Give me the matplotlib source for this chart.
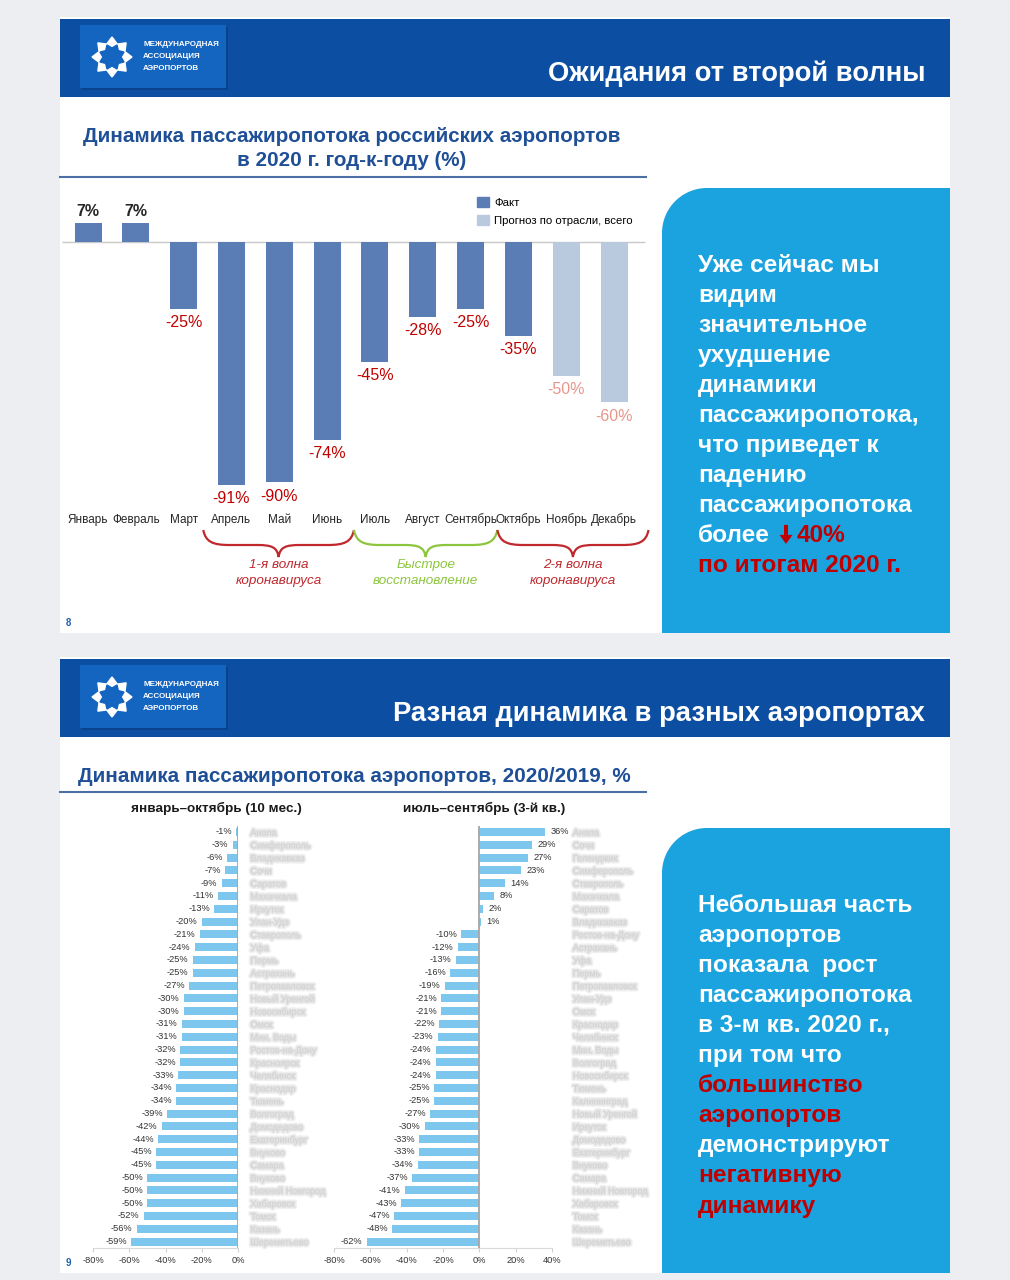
import numpy as np
import matplotlib
matplotlib.use("Agg")
import matplotlib.pyplot as plt
from matplotlib.patches import Rectangle, Polygon, Patch, PathPatch, FancyArrow
from matplotlib.path import Path
from matplotlib.transforms import blended_transform_factory
import matplotlib.patheffects as pe

plt.rcParams['font.family'] = ['Liberation Sans', 'DejaVu Sans']

# ---------------- DATA ----------------
months = ["Январь", "Февраль", "Март", "Апрель", "Май", "Июнь", "Июль",
          "Август", "Сентябрь", "Октябрь", "Ноябрь", "Декабрь"]
month_values = [7, 7, -25, -91, -90, -74, -45, -28, -25, -35, -50, -60]
month_is_forecast = [False] * 10 + [True, True]

ytd_values = [-1, -3, -6, -7, -9, -11, -13, -20, -21, -24, -25, -25, -27, -30, -30,
              -31, -31, -32, -32, -33, -34, -34, -39, -42, -44, -45, -45, -50, -50,
              -50, -52, -56, -59]
ytd_names = ["Анапа", "Симферополь", "Владикавказ", "Сочи", "Саратов", "Махачкала",
             "Иркутск", "Улан-Удэ", "Ставрополь", "Уфа", "Пермь", "Астрахань",
             "Петропавловск", "Новый Уренгой", "Новосибирск", "Омск", "Мин. Воды",
             "Ростов-на-Дону", "Красноярск", "Челябинск", "Краснодар", "Тюмень",
             "Волгоград", "Домодедово", "Екатеринбург", "Внуково", "Самара", "Внуково",
             "Нижний Новгород", "Хабаровск", "Томск", "Казань", "Шереметьево"]

q3_values = [36, 29, 27, 23, 14, 8, 2, 1, -10, -12, -13, -16, -19, -21, -21, -22,
             -23, -24, -24, -24, -25, -25, -27, -30, -33, -33, -34, -37, -41, -43,
             -47, -48, -62]
q3_names = ["Анапа", "Сочи", "Геленджик", "Симферополь", "Ставрополь", "Махачкала",
            "Саратов", "Владикавказ", "Ростов-на-Дону", "Астрахань", "Уфа", "Пермь",
            "Петропавловск", "Улан-Удэ", "Омск", "Краснодар", "Челябинск", "Мин. Воды",
            "Волгоград", "Новосибирск", "Тюмень", "Калининград", "Новый Уренгой",
            "Иркутск", "Домодедово", "Екатеринбург", "Внуково", "Самара",
            "Нижний Новгород", "Хабаровск", "Томск", "Казань", "Шереметьево"]

x_ticks_ytd = [-80, -60, -40, -20, 0]
x_ticks_q3 = [-80, -60, -40, -20, 0, 20, 40]

# ---------------- STYLE ----------------
W, H = 1010, 1280
HEADER = '#0b4ea2'
LOGO = '#1465bf'
TITLE_BLUE = '#1f4f96'
PANEL = '#1aa3df'
RED = '#c00000'
FACT = '#5b7db5'
FCST = '#b9cadf'
BAR2 = '#7dc6ee'

fig = plt.figure(figsize=(W / 100, H / 100), dpi=100, facecolor='#eceef2')
bg = fig.add_axes([0, 0, 1, 1])
bg.set_xlim(0, W)
bg.set_ylim(H, 0)
bg.axis('off')
bg.set_zorder(0)


def px_axes(x0, y0, x1, y1):
    a = fig.add_axes([x0 / W, 1 - y1 / H, (x1 - x0) / W, (y1 - y0) / H])
    a.set_zorder(2)
    a.patch.set_alpha(0)
    return a


def logo(y0):
    bg.add_patch(Rectangle((82, y0 + 2), 146, 63, color='#08306b', alpha=0.35, lw=0))
    bg.add_patch(Rectangle((80, y0), 146, 63, color=LOGO, lw=0))
    cx, cy = 112, y0 + 32
    ang = np.linspace(0, 2 * np.pi, 17)[:-1] + np.pi / 2
    r_out = np.where(np.arange(16) % 2 == 0, 20, 14)
    pts = np.c_[cx + r_out * np.cos(ang), cy - r_out * np.sin(ang)]
    bg.add_patch(Polygon(pts, closed=True, fc='white', ec='white', lw=1))
    r_in = np.where(np.arange(16) % 2 == 0, 13, 9)
    pts2 = np.c_[cx + r_in * np.cos(ang + np.pi / 8), cy - r_in * np.sin(ang + np.pi / 8)]
    bg.add_patch(Polygon(pts2, closed=True, fc=LOGO, ec=LOGO, lw=1))
    for k, t in enumerate(["МЕЖДУНАРОДНАЯ", "АССОЦИАЦИЯ", "АЭРОПОРТОВ"]):
        bg.text(143, y0 + 20 + k * 11.5, t, color='white', fontsize=5.8,
                fontweight='bold', va='center', ha='left')


def panel(y0, y1):
    x0, x1, r = 662, 950, 45
    th = np.linspace(np.pi, np.pi / 2, 30)
    arc = np.c_[x0 + r + r * np.cos(th), y0 + r - r * np.sin(th)]
    pts = np.vstack([[x0, y1], arc, [x1, y0], [x1, y1]])
    bg.add_patch(Polygon(pts, closed=True, fc=PANEL, ec='none'))


def slide(y0, title):
    bg.add_patch(Rectangle((60, y0), 890, 616, color='white', lw=0))
    bg.add_patch(Rectangle((60, y0 + 2), 890, 78, color=HEADER, lw=0))
    logo(y0 + 8)
    bg.text(925, y0 + 57, title, color='white', fontsize=19.7, fontweight='bold',
            ha='right', va='center')


# ================= SLIDE 1 =================
slide(17, "Ожидания от второй волны")
bg.text(352, 137, "Динамика пассажиропотока российских аэропортов", color=TITLE_BLUE,
        fontsize=14.9, fontweight='bold', ha='center', va='center')
bg.text(352, 161, "в 2020 г. год-к-году (%)", color=TITLE_BLUE,
        fontsize=14.9, fontweight='bold', ha='center', va='center')
bg.plot([60, 646], [177, 177], color='#4a6fa5', lw=1.5)

ax1 = px_axes(64.1, 190, 638, 508)
xpos = np.arange(len(months))
cols = [FCST if f else FACT for f in month_is_forecast]
ax1.bar(xpos, month_values, width=0.565, color=cols, zorder=3)
ax1.set_xlim(-0.5, 11.5)
ax1.set_ylim(-99.6, 19.5)
ax1.hlines(0, -0.55, 11.65, color='#c8c8c8', lw=1, clip_on=False, zorder=2)
for s in ax1.spines.values():
    s.set_visible(False)
ax1.set_yticks([])
ax1.set_xticks(xpos)
ax1.set_xticklabels(months, fontsize=8.5, color='#262626')
ax1.tick_params(axis='x', length=0, pad=4)
for i, v in enumerate(month_values):
    if v >= 0:
        ax1.annotate(f"{v}%", (i, v), xytext=(0, 3), textcoords='offset points',
                     ha='center', va='bottom', fontsize=11.5, fontweight='bold', color='#262626')
    else:
        c = '#e8968a' if month_is_forecast[i] else RED
        ax1.annotate(f"{v}%", (i, v), xytext=(0, -4.5), textcoords='offset points',
                     ha='center', va='top', fontsize=11.5, color=c)

ax1.legend(handles=[Patch(color=FACT, label='Факт'),
                    Patch(color=FCST, label='Прогноз по отрасли, всего')],
           loc='upper left', bbox_to_anchor=(467, 187), bbox_transform=bg.transData,
           frameon=False, fontsize=8.2, handlelength=1.0, handleheight=1.0,
           handletextpad=0.5, labelspacing=0.55)

# braces under months (x in data units, y in pixels)
btr = blended_transform_factory(ax1.transData, bg.transData)


def brace(xa, xb, color):
    xm = (xa + xb) / 2
    yt, ymid, ytip = 530, 545, 557
    verts = [(xa, yt), (xa + 0.05, ymid - 3), (xa + 0.2, ymid), (xa + 0.55, ymid),
             (xm - 0.45, ymid),
             (xm - 0.15, ymid), (xm - 0.03, ymid + 2), (xm, ytip),
             (xm + 0.03, ymid + 2), (xm + 0.15, ymid), (xm + 0.45, ymid),
             (xb - 0.55, ymid),
             (xb - 0.2, ymid), (xb - 0.05, ymid - 3), (xb, yt)]
    codes = [Path.MOVETO, Path.CURVE4, Path.CURVE4, Path.CURVE4, Path.LINETO,
             Path.CURVE4, Path.CURVE4, Path.CURVE4, Path.CURVE4, Path.CURVE4, Path.CURVE4,
             Path.LINETO, Path.CURVE4, Path.CURVE4, Path.CURVE4]
    bg.add_patch(PathPatch(Path(verts, codes), transform=btr, fc='none', ec=color, lw=1.6))
    return xm


groups = [(2.41, 5.56, '#c0282d', "1-я волна\nкоронавируса"),
          (5.56, 8.56, '#8cc63e', "Быстрое\nвосстановление"),
          (8.56, 11.72, '#c0282d', "2-я волна\nкоронавируса")]
for xa, xb, c, lab in groups:
    xm = brace(xa, xb, c)
    bg.text(xm, 573, lab, transform=btr, color=c, fontsize=9.7, style='italic',
            ha='center', va='center', linespacing=1.4)

bg.text(66, 623, "8", color='#1f5fa8', fontsize=7, fontweight='bold', va='center')

PS = 17.6
panel(188, 633)
lines1 = ["Уже сейчас мы", "видим", "значительное", "ухудшение", "динамики",
          "пассажиропотока,", "что приведет к", "падению", "пассажиропотока"]
for k, t in enumerate(lines1):
    bg.text(698, 265 + k * 30.1, t, color='white', fontsize=PS, fontweight='bold',
            va='center', ha='left')
yb = 265 + 9 * 30.1
bg.text(698, yb, "более", color='white', fontsize=PS, fontweight='bold', va='center')
bg.add_patch(FancyArrow(786, yb - 11, 0, 19, width=4, head_width=13, head_length=9,
                        length_includes_head=True, color=RED, lw=0))
bg.text(797, yb, "40%", color=RED, fontsize=PS, fontweight='bold', va='center')
bg.text(698, 265 + 10 * 30.1, "по итогам 2020 г.", color=RED, fontsize=PS,
        fontweight='bold', va='center')

# ================= SLIDE 2 =================
slide(657, "Разная динамика в разных аэропортах")
bg.text(78, 776, "Динамика пассажиропотока аэропортов, 2020/2019, %", color=TITLE_BLUE,
        fontsize=14.9, fontweight='bold', ha='left', va='center')
bg.plot([60, 646], [792, 792], color='#4a6fa5', lw=1.5)

bg.text(216, 808, "январь–октябрь (10 мес.)", fontsize=9.7, fontweight='bold',
        ha='center', va='center', color='#1a1a1a')
bg.text(484, 808, "июль–сентябрь (3-й кв.)", fontsize=9.7, fontweight='bold',
        ha='center', va='center', color='#1a1a1a')


def hbar_chart(ax, vals, names, xlim, ticks, name_pad):
    y = np.arange(len(vals))
    ax.barh(y, vals, height=0.62, color=BAR2, zorder=3)
    ax.set_ylim(len(vals) - 0.5, -0.5)
    ax.set_xlim(*xlim)
    ax.axvline(0, color='#a6a6a6', lw=1.3, zorder=4)
    for s in ['top', 'left', 'right']:
        ax.spines[s].set_visible(False)
    ax.spines['bottom'].set_color('#d9d9d9')
    ax.set_xticks(ticks)
    ax.set_xticklabels([f"{t}%" for t in ticks], fontsize=6.7, color='#333333')
    ax.tick_params(axis='x', length=3, color='#d0d0d0', pad=3)
    ax.yaxis.tick_right()
    ax.set_yticks(y)
    ax.set_yticklabels(names, fontsize=6.5, color='#d2d2d2', ha='left')
    ax.tick_params(axis='y', length=0, pad=name_pad)
    for t in ax.get_yticklabels():
        t.set_path_effects([pe.withStroke(linewidth=3.5, foreground='#f0f0f0'),
                            pe.withStroke(linewidth=1.5, foreground='#e2e2e2')])
    for i, v in enumerate(vals):
        if v < 0:
            ax.annotate(f"{v}%", (v, i), xytext=(-3, 0), textcoords='offset points',
                        ha='right', va='center', fontsize=6.7, color='#333333')
        else:
            ax.annotate(f"{v}%", (v, i), xytext=(4, 0), textcoords='offset points',
                        ha='left', va='center', fontsize=6.7, color='#333333')


ax2 = px_axes(93, 825.6, 238, 1248)
hbar_chart(ax2, ytd_values, ytd_names, (-80, 0), x_ticks_ytd, 9)
ax3 = px_axes(334, 825.6, 552, 1248)
hbar_chart(ax3, q3_values, q3_names, (-80, 40), x_ticks_q3, 15)

bg.text(66, 1263, "9", color='#1f5fa8', fontsize=7, fontweight='bold', va='center')

panel(828, 1273)
lines2 = [("Небольшая часть", 'white'), ("аэропортов", 'white'),
          ("показала  рост", 'white'), ("пассажиропотока", 'white'),
          ("в 3-м кв. 2020 г.,", 'white'), ("при том что", 'white'),
          ("большинство", RED), ("аэропортов", RED), ("демонстрируют", 'white'),
          ("негативную", RED), ("динамику", RED)]
for k, (t, c) in enumerate(lines2):
    bg.text(698, 905 + k * 30.1, t, color=c, fontsize=PS, fontweight='bold',
            va='center', ha='left')

fig.savefig("out.png", dpi=100, facecolor=fig.get_facecolor())
